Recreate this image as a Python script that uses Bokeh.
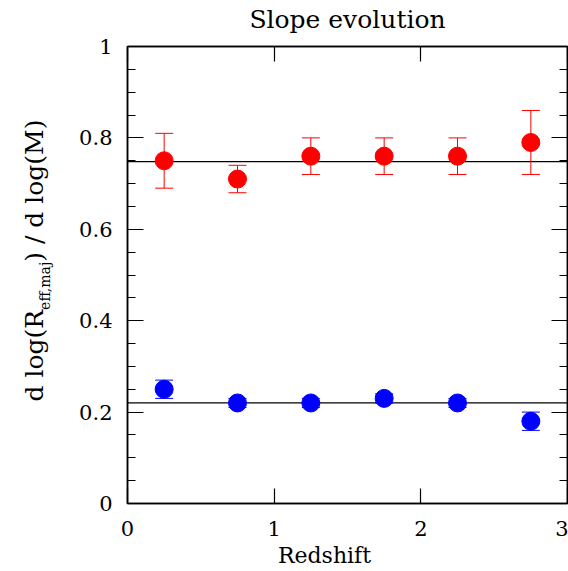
import glob
import math

from bokeh.plotting import figure
from bokeh.layouts import row
from bokeh.models import (ColumnDataSource, Whisker, TeeHead, Span, Label, LinearAxis, Title,
                          FixedTicker, NumeralTickFormatter, CustomJSTickFormatter, Range1d)
from bokeh.embed import file_html
from bokeh.resources import INLINE

# ---------------- data ----------------
redshift = [0.25, 0.75, 1.25, 1.75, 2.25, 2.75]

slope_red = [0.75, 0.71, 0.76, 0.76, 0.76, 0.79]
slope_red_lo = [0.69, 0.68, 0.72, 0.72, 0.72, 0.72]
slope_red_hi = [0.81, 0.74, 0.80, 0.80, 0.80, 0.86]

slope_blue = [0.25, 0.22, 0.22, 0.23, 0.22, 0.18]
slope_blue_lo = [0.23, 0.21, 0.21, 0.22, 0.21, 0.16]
slope_blue_hi = [0.27, 0.23, 0.23, 0.24, 0.23, 0.20]

fit_levels = [0.748, 0.22]

x_ticks = [0, 1, 2, 3]
y_ticks = [0, 0.2, 0.4, 0.6, 0.8, 1.0]
y_minor_ticks = [0.05, 0.1, 0.15, 0.25, 0.3, 0.35, 0.45, 0.5, 0.55,
                 0.65, 0.7, 0.75, 0.85, 0.9, 0.95]

title_text = "Slope evolution"
x_label_text = "Redshift"
y_label_parts = ["d log(R", "eff,maj", ") / d log(M)"]

FONT = "DejaVu Serif"
MAIN_SIZE = 25
SUB_SIZE = 14
XLAB_SIZE = 22

TOTAL_W, TOTAL_H = 568, 571
LAB_W = 60
BORDER_TOP, BORDER_BOTTOM = 46, 68


def text_width(s, size):
    try:
        from PIL import ImageFont
        paths = glob.glob("/usr/share/fonts/**/DejaVuSerif.ttf", recursive=True)
        f = ImageFont.truetype(paths[0], size)
        return float(f.getlength(s))
    except Exception:
        return 0.6 * size * len(s)


# ---------------- main figure ----------------
p = figure(width=TOTAL_W - LAB_W, height=TOTAL_H, output_backend="svg", toolbar_location=None,
           x_range=Range1d(0, 3), y_range=Range1d(0, 1),
           x_axis_type=None, y_axis_type=None,
           min_border_left=127 - LAB_W, min_border_right=1,
           min_border_top=BORDER_TOP, min_border_bottom=BORDER_BOTTOM)
p.outline_line_color = "black"
p.outline_line_width = 1.5
p.background_fill_color = "white"
p.border_fill_color = "white"
p.title.text = ""


def make_axis(ticks, minor, formatter, major_len, minor_len, show_labels, standoff):
    ax = LinearAxis(ticker=FixedTicker(ticks=ticks, minor_ticks=minor),
                    formatter=formatter if show_labels else CustomJSTickFormatter(code="return ''"),
                    major_tick_in=major_len, major_tick_out=0,
                    minor_tick_in=minor_len, minor_tick_out=0,
                    axis_line_color="black", axis_line_width=1.5,
                    major_tick_line_color="black", major_tick_line_width=1.2,
                    minor_tick_line_color="black", minor_tick_line_width=1.2,
                    major_label_text_font=FONT, major_label_text_font_size="21px",
                    major_label_text_color="black",
                    major_label_standoff=standoff)
    return ax


bottom_ax = make_axis(x_ticks, [], NumeralTickFormatter(format="0"), 15, 0, True, 17)
top_ax = make_axis(x_ticks, [], NumeralTickFormatter(format="0"), 15, 0, False, 0)
top_ax.axis_label = title_text
top_ax.axis_label_standoff = 13
top_ax.axis_label_text_font = FONT
top_ax.axis_label_text_font_size = "25px"
top_ax.axis_label_text_font_style = "normal"
top_ax.axis_label_text_color = "black"
p.add_layout(bottom_ax, "below")
p.add_layout(top_ax, "above")
p.add_layout(make_axis(y_ticks, y_minor_ticks, NumeralTickFormatter(format="0.[0]"), 16, 8, True, 15), "left")
p.add_layout(make_axis(y_ticks, y_minor_ticks, NumeralTickFormatter(format="0.[0]"), 16, 8, False, 0), "right")

xlab_w = text_width(x_label_text, XLAB_SIZE)
p.add_layout(Title(text=x_label_text, align="left", offset=(324 - 127) - xlab_w / 2, standoff=5,
                   text_font=FONT, text_font_size=f"{XLAB_SIZE}px", text_font_style="normal",
                   text_color="black"), "below")

# fit lines
for lvl in fit_levels:
    p.add_layout(Span(location=lvl, dimension="width", line_color="black",
                      line_width=1.3, level="underlay"))

# data
src_red = ColumnDataSource(dict(x=redshift, y=slope_red, lo=slope_red_lo, hi=slope_red_hi))
src_blue = ColumnDataSource(dict(x=redshift, y=slope_blue, lo=slope_blue_lo, hi=slope_blue_hi))

for src, col in ((src_red, "#ff0000"), (src_blue, "#0000ff")):
    w = Whisker(source=src, base="x", lower="lo", upper="hi", line_color=col, line_width=1,
                upper_head=TeeHead(size=18, line_color=col, line_width=1),
                lower_head=TeeHead(size=18, line_color=col, line_width=1),
                level="underlay")
    p.add_layout(w)
    p.scatter("x", "y", source=src, size=18, marker="circle",
              fill_color=col, line_color=col)

# ---------------- y-label panel ----------------
lab = figure(width=LAB_W, height=TOTAL_H, output_backend="svg", toolbar_location=None,
             x_range=Range1d(0, LAB_W), y_range=Range1d(0, 1),
             x_axis_type=None, y_axis_type=None,
             min_border_left=0, min_border_right=0,
             min_border_top=BORDER_TOP, min_border_bottom=BORDER_BOTTOM)
lab.outline_line_color = None
lab.background_fill_color = "white"
lab.border_fill_color = "white"
lab.title.text = ""

w0 = text_width(y_label_parts[0], MAIN_SIZE)
w1 = text_width(y_label_parts[1], SUB_SIZE)
w2 = text_width(y_label_parts[2], MAIN_SIZE)
total = w0 + w1 + w2
frame_bottom = TOTAL_H - BORDER_BOTTOM
y_center = frame_bottom - 260          # screen units from frame bottom
y_start = y_center - total / 2
base_x = 34
offsets = [(base_x, y_start, MAIN_SIZE),
           (base_x + 10, y_start + w0, SUB_SIZE),
           (base_x, y_start + w0 + w1, MAIN_SIZE)]
for part, (lx, ly, sz) in zip(y_label_parts, offsets):
    lab.add_layout(Label(x=lx, y=ly, x_units="screen", y_units="screen",
                         text=part, text_font=FONT, text_font_size=f"{sz}px",
                         angle=math.pi / 2, text_align="left", text_baseline="alphabetic",
                         text_color="black"))

layout = row(lab, p, spacing=0)
open("out.html", "w").write(file_html(layout, INLINE))
